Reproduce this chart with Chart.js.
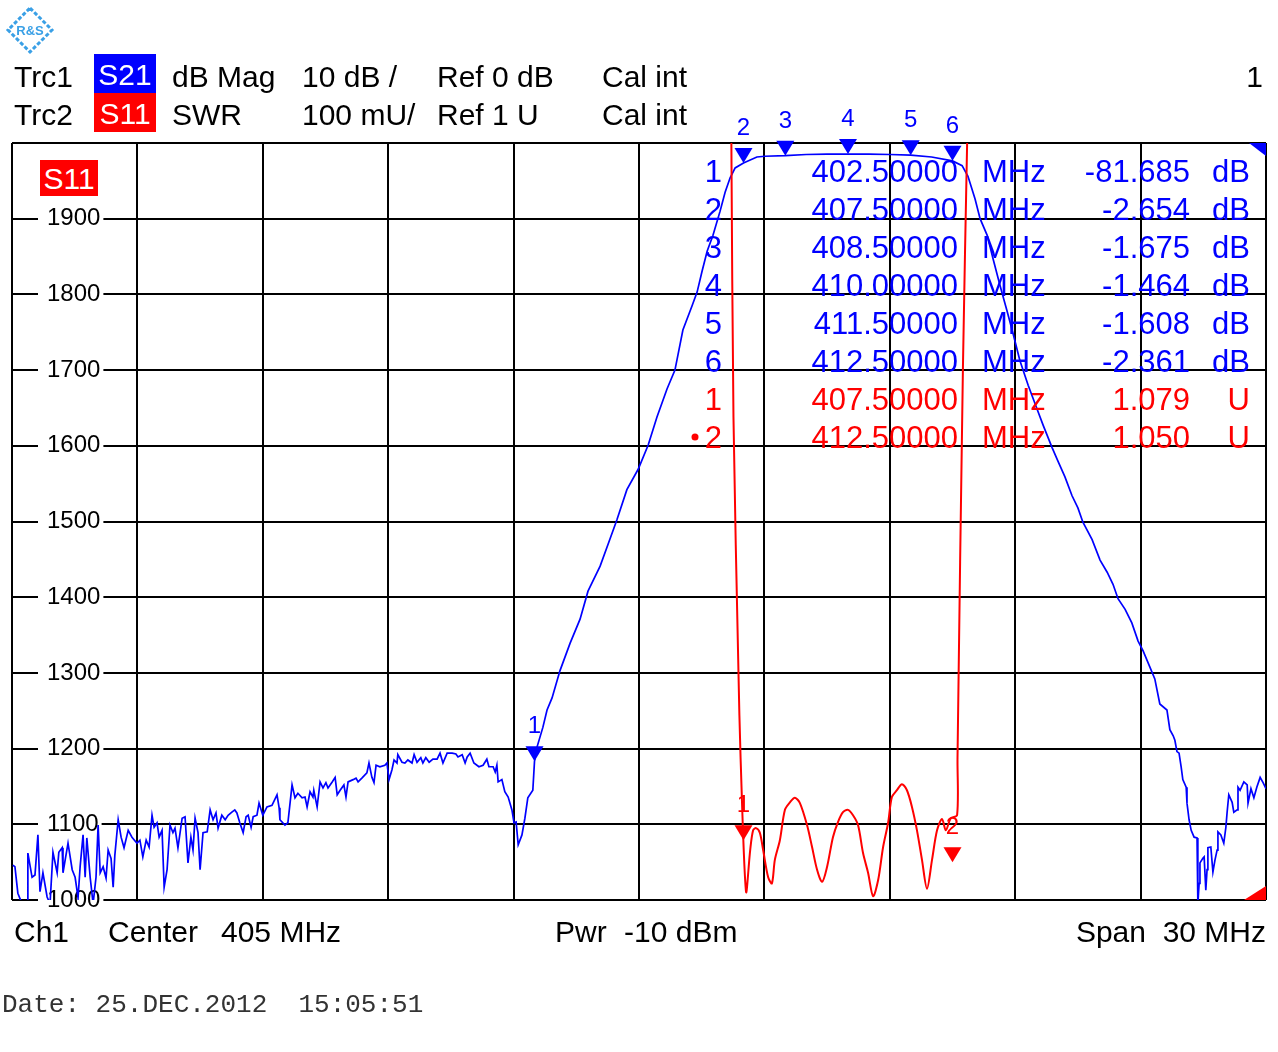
<!DOCTYPE html>
<html>
<head>
<meta charset="utf-8">
<script src="https://cdn.jsdelivr.net/npm/chart.js@4.4.1/dist/chart.umd.min.js"></script>
<style>
  html, body { margin: 0; padding: 0; background: #fff; }
  #wrap { position: relative; width: 1278px; height: 1052px; overflow: hidden; font-family: "Liberation Sans", Arial, sans-serif; }
  #wrap canvas { position: absolute; left: 0; top: 0; }
  .t { position: absolute; font-size: 30px; line-height: 30px; color: #000; white-space: pre; }
  .box { position: absolute; color: #fff; font-size: 30px; text-align: center; box-sizing: border-box; }
  #date { position: absolute; left: 2px; top: 992px; font-family: "Liberation Mono", "DejaVu Sans Mono", monospace; font-size: 26px; line-height: 26px; color: #333; white-space: pre; }
</style>
</head>
<body>
<div id="wrap">
  <canvas id="vna" width="1278" height="1052"></canvas>

  <div class="t" style="left:14px;top:62px">Trc1</div>
  <div class="box" style="left:94px;top:54px;width:62px;height:39px;padding-top:3px;line-height:36px;background:#0000ff">S21</div>
  <div class="t" style="left:172px;top:62px">dB Mag</div>
  <div class="t" style="left:302px;top:62px">10 dB /</div>
  <div class="t" style="left:437px;top:62px">Ref 0 dB</div>
  <div class="t" style="left:602px;top:62px">Cal int</div>
  <div class="t" style="right:15px;top:62px">1</div>

  <div class="t" style="left:14px;top:100px">Trc2</div>
  <div class="box" style="left:94px;top:93px;width:62px;height:39px;padding-top:3px;line-height:36px;background:#ff0000">S11</div>
  <div class="t" style="left:172px;top:100px">SWR</div>
  <div class="t" style="left:302px;top:100px">100 mU/</div>
  <div class="t" style="left:437px;top:100px">Ref 1 U</div>
  <div class="t" style="left:602px;top:100px">Cal int</div>

  <div class="box" style="left:40px;top:160px;width:58px;height:36px;padding-top:1px;line-height:35px;background:#ff0000">S11</div>

  <div class="t" style="left:14px;top:917px">Ch1</div>
  <div class="t" style="left:108px;top:917px">Center</div>
  <div class="t" style="left:221px;top:917px">405 MHz</div>
  <div class="t" style="left:555px;top:917px">Pwr</div>
  <div class="t" style="left:624px;top:917px">-10 dBm</div>
  <div class="t" style="right:12px;top:917px">Span  30 MHz</div>

  <div id="date">Date: 25.DEC.2012  15:05:51</div>
</div>

<script>
// S21 trace (Trc1), dB Mag
const freqS21 = [
  390.02, 390.07, 390.14, 390.24, 390.36, 390.38, 390.48, 390.55, 390.62, 390.67,
  390.74, 390.84, 390.91, 390.98, 391.08, 391.12, 391.20, 391.22, 391.34, 391.44,
  391.51, 391.58, 391.63, 391.70, 391.75, 391.79, 391.87, 391.94, 392.01, 392.06,
  392.11, 392.18, 392.25, 392.30, 392.37, 392.42, 392.46, 392.54, 392.61, 392.68,
  392.78, 392.87, 392.99, 393.06, 393.13, 393.21, 393.28, 393.35, 393.40, 393.47,
  393.52, 393.59, 393.64, 393.71, 393.78, 393.85, 393.90, 393.97, 394.07, 394.14,
  394.21, 394.28, 394.33, 394.38, 394.45, 394.50, 394.57, 394.67, 394.74, 394.81,
  394.88, 394.93, 395.02, 395.10, 395.17, 395.26, 395.33, 395.38, 395.45, 395.53,
  395.60, 395.65, 395.72, 395.77, 395.86, 395.91, 396.00, 396.10, 396.22, 396.34,
  396.39, 396.41, 396.53, 396.60, 396.70, 396.77, 396.84, 396.94, 397.01, 397.06,
  397.13, 397.20, 397.22, 397.30, 397.37, 397.44, 397.51, 397.56, 397.66, 397.73,
  397.78, 397.85, 397.94, 397.99, 398.04, 398.16, 398.23, 398.28, 398.37, 398.49,
  398.54, 398.61, 398.66, 398.71, 398.80, 398.92, 398.97, 399.02, 399.09, 399.14,
  399.21, 399.23, 399.33, 399.40, 399.47, 399.57, 399.62, 399.69, 399.78, 399.83,
  399.90, 399.98, 400.07, 400.17, 400.24, 400.31, 400.41, 400.53, 400.62, 400.67,
  400.77, 400.84, 400.89, 400.96, 401.05, 401.17, 401.27, 401.36, 401.41, 401.51,
  401.56, 401.60, 401.63, 401.72, 401.79, 401.87, 401.96, 402.01, 402.06, 402.11,
  402.20, 402.27, 402.34, 402.46, 402.50, 402.56, 402.70, 402.80, 402.92, 403.11,
  403.35, 403.59, 403.78, 404.07, 404.26, 404.47, 404.71, 404.98, 405.22, 405.43,
  405.67, 405.86, 406.05, 406.27, 406.39, 406.51, 406.63, 406.77, 406.94, 407.06,
  407.18, 407.30, 407.50, 407.82, 408.01, 408.50, 409.00, 409.50, 410.00, 410.50,
  411.00, 411.50, 412.00, 412.50, 412.73, 412.87, 413.04, 413.16, 413.33, 413.47,
  413.64, 413.80, 413.95, 414.11, 414.31, 414.52, 414.67, 414.88, 415.02, 415.19,
  415.36, 415.50, 415.62, 415.84, 416.03, 416.20, 416.34, 416.46, 416.63, 416.79,
  416.94, 417.06, 417.22, 417.34, 417.46, 417.63, 417.70, 417.78, 417.82, 417.87,
  417.92, 417.97, 418.01, 418.09, 418.11, 418.16, 418.21, 418.28, 418.35, 418.37,
  418.40, 418.42, 418.49, 418.52, 418.56, 418.59, 418.61, 418.68, 418.73, 418.78,
  418.83, 418.85, 418.92, 418.99, 419.04, 419.07, 419.11, 419.19, 419.23, 419.31,
  419.33, 419.38, 419.47, 419.55, 419.57, 419.64, 419.71, 419.78, 419.86, 419.93,
  420.00
];
const magS21 = [
  -95.4, -95.6, -99.1, -100.5, -100.5, -93.8, -97.0, -96.7, -91.4, -98.9,
  -96.4, -99.6, -100.5, -93.7, -96.4, -93.7, -93.1, -96.4, -92.5, -96.0,
  -97.0, -99.7, -95.6, -91.4, -97.0, -91.8, -97.0, -100.5, -97.0, -90.1,
  -96.4, -95.6, -97.1, -93.4, -94.5, -98.3, -94.1, -89.4, -91.7, -93.1,
  -90.8, -91.7, -92.5, -92.1, -94.3, -92.1, -93.0, -88.8, -90.4, -89.8,
  -91.7, -90.8, -98.3, -96.0, -90.1, -91.1, -90.5, -93.1, -89.2, -89.0,
  -95.1, -91.7, -93.4, -89.2, -91.1, -96.0, -91.1, -91.0, -88.1, -89.4,
  -88.5, -90.5, -88.8, -89.4, -88.8, -88.4, -88.1, -88.5, -89.8, -91.1,
  -89.0, -88.8, -90.4, -89.0, -88.8, -87.2, -88.8, -87.7, -87.5, -86.1,
  -87.8, -89.4, -90.1, -89.8, -84.8, -86.5, -85.9, -86.5, -86.4, -87.7,
  -85.7, -86.4, -85.5, -87.7, -84.4, -85.2, -84.5, -85.2, -84.4, -83.8,
  -86.1, -85.5, -84.8, -86.4, -84.4, -84.1, -83.9, -84.4, -83.9, -83.2,
  -81.9, -83.8, -84.5, -82.2, -82.4, -82.2, -81.9, -84.1, -82.8, -81.5,
  -81.9, -80.8, -81.8, -81.9, -81.5, -81.9, -80.8, -81.8, -81.2, -81.9,
  -81.2, -81.8, -81.4, -81.4, -80.6, -81.9, -80.6, -80.6, -80.7, -81.1,
  -80.8, -81.9, -81.1, -80.6, -81.9, -82.4, -82.2, -81.4, -82.4, -82.4,
  -83.1, -82.2, -84.4, -84.1, -85.7, -86.4, -88.1, -89.8, -89.7, -92.7,
  -91.4, -89.2, -86.5, -85.5, -81.685, -79.8, -77.2, -74.9, -73.3, -69.7,
  -66.1, -62.9, -59.2, -55.9, -53.0, -49.8, -45.8, -43.1, -39.9, -36.2,
  -32.5, -30.0, -24.7, -21.5, -19.7, -16.9, -14.3, -12.2, -9.0, -6.5,
  -4.6, -3.3, -2.654, -1.85, -1.75, -1.675, -1.52, -1.47, -1.464, -1.47,
  -1.52, -1.608, -1.85, -2.361, -3.0, -4.4, -7.4, -10.0, -12.2, -15.3,
  -18.9, -22.1, -25.2, -28.7, -32.0, -35.1, -37.3, -40.2, -42.0, -44.1,
  -46.6, -48.2, -50.1, -52.4, -55.1, -56.7, -58.3, -60.2, -61.6, -63.4,
  -65.8, -67.1, -69.2, -70.8, -74.1, -74.9, -77.5, -78.3, -78.9, -80.4,
  -80.6, -82.4, -84.1, -85.1, -87.2, -89.4, -90.8, -91.7, -91.8, -100.5,
  -97.8, -95.1, -94.5, -94.3, -98.7, -96.0, -93.1, -93.0, -96.3, -94.7,
  -93.4, -91.0, -91.4, -92.5, -90.4, -88.4, -86.1, -87.1, -88.4, -88.1,
  -85.1, -85.5, -84.4, -84.8, -87.2, -85.3, -86.5, -85.1, -83.8, -84.5,
  -85.3
];

// S11 trace (Trc2), SWR in mU
const freqS11 = [
  407.21, 407.26, 407.38, 407.43, 407.56, 407.66, 407.73, 407.80, 407.89, 407.97,
  408.09, 408.18, 408.25, 408.37, 408.49, 408.61, 408.73, 408.85, 409.02, 409.14,
  409.26, 409.38, 409.50, 409.64, 409.76, 409.88, 410.00, 410.12, 410.24, 410.36,
  410.48, 410.60, 410.72, 410.84, 410.96, 411.05, 411.17, 411.29, 411.41, 411.53,
  411.65, 411.77, 411.89, 412.01, 412.13, 412.25, 412.34, 412.46, 412.61, 412.62,
  412.75, 412.85
];
const swrS11 = [
  2000, 1638, 1300, 1188, 1011, 1066, 1092, 1095, 1089, 1066,
  1030, 1022, 1053, 1079, 1119, 1129, 1135, 1128, 1099, 1070,
  1040, 1024, 1044, 1083, 1103, 1116, 1119, 1112, 1099, 1062,
  1036, 1005, 1026, 1070, 1102, 1136, 1145, 1153, 1145, 1123,
  1092, 1053, 1015, 1053, 1092, 1107, 1092, 1108, 1112, 1188,
  1705, 2000
];

// markers
const s21MarkerFreq = [402.5, 407.5, 408.5, 410.0, 411.5, 412.5];
const s21MarkerDb = [-81.685, -2.654, -1.675, -1.464, -1.608, -2.361];
const s11MarkerFreq = [407.5, 412.5];
const s11MarkerSwr = [1.079, 1.050];

// axes
const freqMin = 390, freqMax = 420, freqStep = 3;
const swrMin = 1000, swrMax = 2000, swrStep = 100;
const dbMin = -100, dbMax = 0;

const BLUE = "#0000ff";
const RED = "#ff0000";
const FONT = '"Liberation Sans", Arial, sans-serif';

function tri(ctx, px, tipY, color) {
    ctx.beginPath();
    ctx.moveTo(px, tipY);
    ctx.lineTo(px - 9, tipY - 15);
    ctx.lineTo(px + 9, tipY - 15);
    ctx.closePath();
    ctx.fillStyle = color;
    ctx.fill();
}

const markerPlugin = {
    id: "markers",
    afterDatasetsDraw(chart) {
        const ctx = chart.ctx;
        const xs = chart.scales.x;
        const yDb = chart.scales.yDb;
        const ySwr = chart.scales.y;
        const area = chart.chartArea;

        ctx.save();
        ctx.font = "24px " + FONT;
        ctx.textAlign = "center";
        ctx.textBaseline = "alphabetic";

        s21MarkerFreq.forEach((f, i) => {
            const px = xs.getPixelForValue(f);
            const py = yDb.getPixelForValue(s21MarkerDb[i]);
            tri(ctx, px, py, BLUE);
            ctx.fillStyle = BLUE;
            ctx.fillText(String(i + 1), px, py - 28);
        });
        s11MarkerFreq.forEach((f, i) => {
            const px = xs.getPixelForValue(f);
            const py = ySwr.getPixelForValue(s11MarkerSwr[i] * 1000);
            tri(ctx, px, py, RED);
            ctx.fillStyle = RED;
            ctx.fillText(String(i + 1), px, py - 28);
        });

        // marker readout
        const rows = [];
        s21MarkerFreq.forEach((f, i) => rows.push({ n: i + 1, f, v: s21MarkerDb[i].toFixed(3), u: "dB", c: BLUE }));
        s11MarkerFreq.forEach((f, i) => rows.push({ n: i + 1, f, v: s11MarkerSwr[i].toFixed(3), u: "U", c: RED }));
        ctx.font = "31px " + FONT;
        rows.forEach((r, i) => {
            const base = 182 + i * 38;
            ctx.fillStyle = r.c;
            ctx.textAlign = "right";
            ctx.fillText(String(r.n), 722, base);
            ctx.fillText(r.f.toFixed(5), 958, base);
            ctx.fillText(r.v, 1190, base);
            ctx.fillText(r.u, 1250, base);
            ctx.textAlign = "left";
            ctx.fillText("MHz", 982, base);
        });
        // active marker dot
        ctx.fillStyle = RED;
        ctx.beginPath();
        ctx.arc(695, 437, 3.5, 0, Math.PI * 2);
        ctx.fill();

        // trace corner flags
        ctx.fillStyle = BLUE;
        ctx.beginPath();
        ctx.moveTo(area.right - 17, area.top);
        ctx.lineTo(area.right, area.top);
        ctx.lineTo(area.right, area.top + 13);
        ctx.closePath();
        ctx.fill();
        ctx.fillStyle = RED;
        ctx.beginPath();
        ctx.moveTo(area.right - 22, area.bottom);
        ctx.lineTo(area.right, area.bottom);
        ctx.lineTo(area.right, area.bottom - 14);
        ctx.closePath();
        ctx.fill();

        // logo
        ctx.strokeStyle = "#3aa0e6";
        ctx.lineWidth = 3;
        ctx.setLineDash([4, 2]);
        ctx.beginPath();
        ctx.moveTo(30, 8);
        ctx.lineTo(52, 30);
        ctx.lineTo(30, 52);
        ctx.lineTo(8, 30);
        ctx.closePath();
        ctx.stroke();
        ctx.setLineDash([]);
        ctx.fillStyle = "#3aa0e6";
        ctx.font = "bold 13px " + FONT;
        ctx.textAlign = "center";
        ctx.fillText("R&S", 30, 35);
        ctx.restore();
    }
};

new Chart(document.getElementById("vna"), {
    type: "line",
    data: {
        datasets: [
            {
                label: "S11",
                data: freqS11.map((f, i) => ({ x: f, y: swrS11[i] })),
                yAxisID: "y",
                borderColor: RED,
                borderWidth: 2,
                pointRadius: 0,
                tension: 0.3,
                fill: false
            },
            {
                label: "S21",
                data: freqS21.map((f, i) => ({ x: f, y: magS21[i] })),
                yAxisID: "yDb",
                borderColor: BLUE,
                borderWidth: 1.7,
                pointRadius: 0,
                tension: 0,
                fill: false
            }
        ]
    },
    options: {
        responsive: false,
        animation: false,
        events: [],
        layout: { padding: { left: 12, top: 143, right: 12, bottom: 152 } },
        plugins: { legend: { display: false }, tooltip: { enabled: false } },
        scales: {
            x: {
                type: "linear",
                min: freqMin,
                max: freqMax,
                ticks: { display: false, stepSize: freqStep },
                grid: { color: "#000", lineWidth: 2, drawTicks: false },
                border: { display: false }
            },
            y: {
                type: "linear",
                position: "left",
                min: swrMin,
                max: swrMax,
                afterFit: (s) => { s.width = 0; },
                ticks: {
                    stepSize: swrStep,
                    mirror: true,
                    padding: 35,
                    color: "#000",
                    font: { family: FONT, size: 24 },
                    callback: (v) => (v >= swrMax ? "" : String(v)),
                    showLabelBackdrop: (c) => c.tick && c.tick.value < swrMax,
                    backdropColor: "#fff",
                    backdropPadding: { left: 9, right: 3, top: 0, bottom: 0 }
                },
                grid: { color: "#000", lineWidth: 2, drawTicks: false },
                border: { display: false }
            },
            yDb: {
                type: "linear",
                display: false,
                min: dbMin,
                max: dbMax
            }
        }
    },
    plugins: [markerPlugin]
});
</script>
</body>
</html>
